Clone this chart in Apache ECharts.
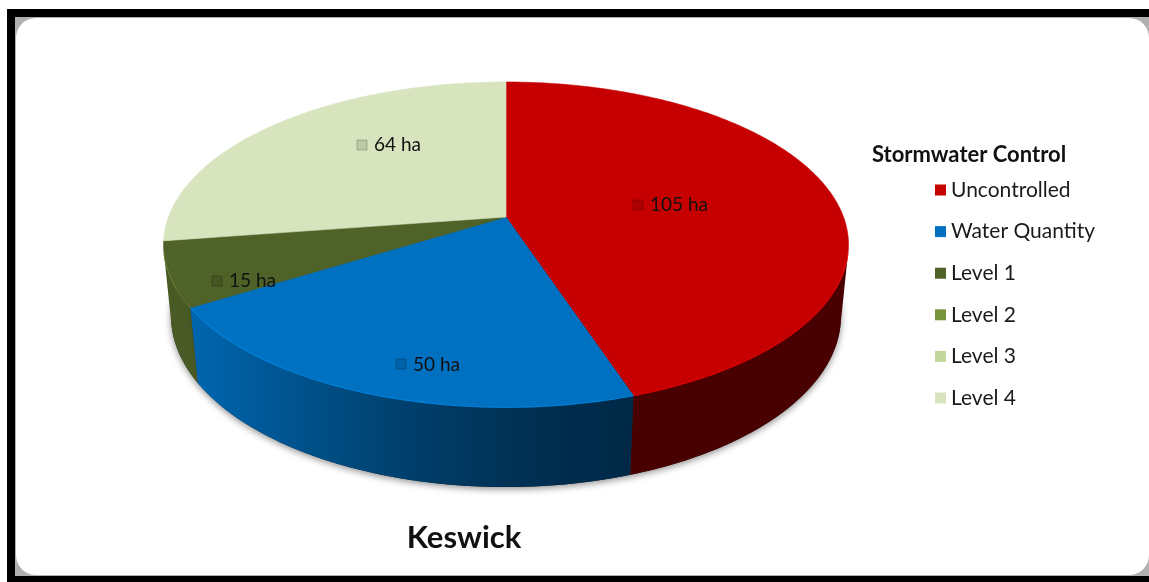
<!DOCTYPE html>
<html>
<head>
<meta charset="utf-8">
<script src="https://cdn.jsdelivr.net/npm/echarts@6/dist/echarts.min.js"></script>
<style>
html,body{margin:0;padding:0;background:#fff;}
#chart{width:1149px;height:582px;}
</style>
</head>
<body>
<div id="chart"></div>
<script>
// ---- data ----
const categories = ['Uncontrolled', 'Water Quantity', 'Level 1', 'Level 2', 'Level 3', 'Level 4'];
const areas = [105, 50, 15, 0, 0, 64];
const unit = 'ha';
const chartTitle = 'Keswick';
const legendTitle = 'Stormwater Control';

// ---- styles ----
const colors = ['#c60000', '#0070c0', '#4f6228', '#77933c', '#c3d69b', '#d7e4bd'];
const labelAngleShift = [0, -6, -7.6, 0, 0, 12];
const labelRadius = [0.5, 0.83, 0.82, 0.6, 0.6, 0.62];

// 3D projection parameters (pixels)
const CX = 506, CY = 217, R = 337.5, H = 81.5;
const SIN = 0.468, COS = 0.884, DIST = 1755;
const FONT = 'Lato, "Open Sans", sans-serif';
const LABEL_FONT = '19px ' + FONT;

const total = areas.reduce((a, b) => a + b, 0);
const cum = [];
areas.reduce((acc, v, i) => { cum[i] = acc; return acc + v; }, 0);

const measureCtx = document.createElement('canvas').getContext('2d');
function textWidth(t, font) { measureCtx.font = font; return measureCtx.measureText(t).width; }

function proj(thetaDeg, f, w) {
  const t = thetaDeg * Math.PI / 180;
  const u = Math.cos(t) * f, v = Math.sin(t) * f;
  const z = v * R * COS + w * H * SIN;
  const k = DIST / (DIST - z);
  return [CX + R * u * k, CY + (v * R * SIN - w * H * COS) * k];
}
function hexRgb(h) { return [parseInt(h.substr(1, 2), 16), parseInt(h.substr(3, 2), 16), parseInt(h.substr(5, 2), 16)]; }
function shade(h, f) { const c = hexRgb(h); return 'rgb(' + c.map(x => Math.round(Math.min(255, x * f))).join(',') + ')'; }
function lit(theta) {
  let s = (theta - 70) / 85; s = Math.max(0, Math.min(1, s));
  s = s * s * (3 - 2 * s);
  return 0.37 + 0.55 * s;
}
const visMin = Math.asin(R / (DIST * COS)) * 180 / Math.PI;
const visMax = 180 - visMin;

function makeRender(idx) {
  return function (params, api) {
    const before = api.value(0), val = api.value(1);
    const children = [];
    if (idx === 0) {
      const pts = [];
      for (let a = 0; a <= 360; a += 2) pts.push(proj(a, 1, -1));
      children.push({ type: 'polygon', z2: 0, shape: { points: pts },
        style: { fill: '#2a2a2a', shadowBlur: 7, shadowColor: 'rgba(0,0,0,0.45)', shadowOffsetY: 2 } });
    }
    if (!(val > 0)) return { type: 'group', children };
    const t0 = -90 + before / total * 360;
    const t1 = t0 + val / total * 360;
    const col = colors[idx];
    // side wall
    const a0 = Math.max(t0, visMin), a1 = Math.min(t1, visMax);
    if (a1 > a0) {
      const top = [], bot = [];
      const n = Math.max(2, Math.ceil(a1 - a0));
      for (let j = 0; j <= n; j++) {
        const a = a0 + (a1 - a0) * j / n;
        top.push(proj(a, 1, 0));
        bot.push(proj(a, 1, -1));
      }
      const xs = top.map(p => p[0]);
      const xmin = Math.min(...xs), xmax = Math.max(...xs);
      const stops = [];
      for (let j = 0; j <= 8; j++) {
        const a = a0 + (a1 - a0) * j / 8;
        const x = proj(a, 1, 0)[0];
        stops.push({ offset: xmax > xmin ? (x - xmin) / (xmax - xmin) : 0, color: shade(col, lit(a)) });
      }
      stops.sort((p, q) => p.offset - q.offset);
      children.push({ type: 'polygon', z2: 1, shape: { points: top.concat(bot.slice().reverse()) },
        style: { fill: { type: 'linear', x: xmin, y: 0, x2: xmax, y2: 0, global: true, colorStops: stops } } });
      children.push({ type: 'polyline', z2: 11, shape: { points: top },
        style: { stroke: shade(col, 1.35), lineWidth: 1.2, opacity: 0.55, fill: null } });
    }
    // top face
    const face = [[CX, CY]];
    const m = Math.max(2, Math.ceil(t1 - t0));
    for (let j = 0; j <= m; j++) face.push(proj(t0 + (t1 - t0) * j / m, 1, 0));
    children.push({ type: 'polygon', z2: 10, shape: { points: face },
      style: { fill: col, stroke: col, lineWidth: 0.6 } });
    // data label with legend key
    const mid = (t0 + t1) / 2 + labelAngleShift[idx];
    const lp = proj(mid, labelRadius[idx], 0);
    const txt = val + ' ' + unit;
    const tw = textWidth(txt, LABEL_FONT);
    const totalW = 10 + 7 + tw;
    const x0 = Math.round(lp[0] - totalW / 2);
    const yk = Math.round(lp[1] - 5);
    children.push({ type: 'rect', z2: 20, shape: { x: x0, y: yk, width: 10, height: 10 },
      style: { fill: shade(col, 0.88), stroke: 'rgba(0,0,0,0.22)', lineWidth: 1 } });
    children.push({ type: 'text', z2: 20, x: x0 + 17, y: lp[1],
      style: { text: txt, fill: '#111', font: LABEL_FONT, align: 'left', verticalAlign: 'middle' } });
    return { type: 'group', children };
  };
}

const series = categories.map((name, i) => ({
  type: 'custom',
  name: name,
  coordinateSystem: 'none',
  renderItem: makeRender(i),
  itemStyle: { color: colors[i] },
  data: [[cum[i], areas[i]]],
  silent: true
}));

const chart = echarts.init(document.getElementById('chart'), null, { renderer: 'canvas' });
chart.setOption({
  animation: false,
  color: colors,
  legend: {
    data: categories,
    orient: 'vertical',
    left: 935, top: 179,
    padding: 0,
    icon: 'rect',
    itemWidth: 11, itemHeight: 11,
    itemGap: 19.6,
    textStyle: { fontFamily: FONT, fontSize: 21, color: '#1a1a1a', lineHeight: 22 },
    selectedMode: false
  },
  graphic: [
    { type: 'rect', z: -10, silent: true, shape: { x: 7, y: 9, width: 1142, height: 573 }, style: { fill: '#000' } },
    { type: 'rect', z: -9, silent: true, shape: { x: 15, y: 17, width: 1134, height: 559 }, style: { fill: '#b0b0b0' } },
    { type: 'rect', z: -8, silent: true, shape: { x: 16, y: 18, width: 1133, height: 557, r: 20 }, style: { fill: '#fff' } },
    { type: 'text', z: 10, x: 464, y: 538, style: { text: chartTitle, font: 'bold 31px ' + FONT, fill: '#111', align: 'center', verticalAlign: 'middle' } },
    { type: 'text', z: 10, x: 872, y: 155, style: { text: legendTitle, font: 'bold 22px ' + FONT, fill: '#111', align: 'left', verticalAlign: 'middle' } }
  ],
  series: series
});
</script>
</body>
</html>
